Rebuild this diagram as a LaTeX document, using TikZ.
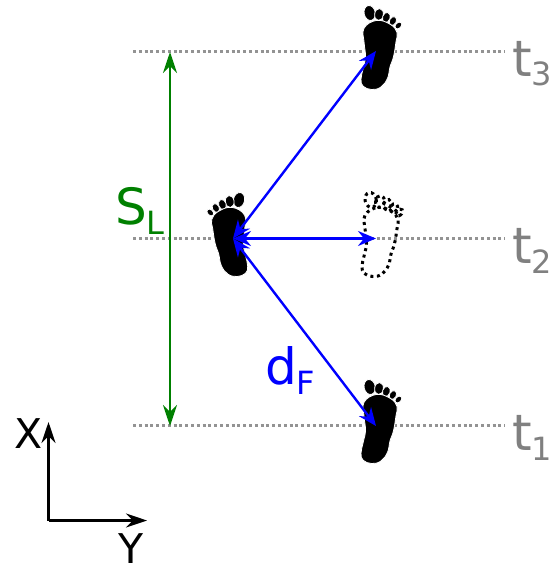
\documentclass[tikz,border=0pt]{standalone}
\usepackage{fontspec}
\setmainfont{DejaVu Sans}
\usetikzlibrary{arrows.meta}
\newcommand{\bigtxt}{\fontsize{50}{50}\selectfont}
\newcommand{\axtxt}{\fontsize{41}{41}\selectfont}
\newcommand{\subtxt}[1]{{\fontsize{32}{32}\selectfont\raisebox{-9.5pt}{#1}}}
\definecolor{midgray}{RGB}{128,128,128}
\definecolor{dgreen}{RGB}{0,128,0}
\tikzset{
  x=1pt,y=-1pt,
  guide/.style={midgray!85,line width=2.4pt,dash pattern=on 3pt off 2.8pt},
  tip/.style={-{Stealth[length=21pt,width=14pt,inset=7pt]}},
  dtip/.style={{Stealth[length=21pt,width=14pt,inset=7pt]}-{Stealth[length=21pt,width=14pt,inset=7pt]}},
  btip/.style={{Stealth[length=18pt,width=15pt,inset=6pt]}-{Stealth[length=18pt,width=15pt,inset=6pt]}},
  span/.style={dtip,dgreen,line width=2.4pt},
  reach/.style={btip,blue,line width=2.4pt},
  axis/.style={tip,black,line width=2.4pt},
  lab/.style={inner sep=0pt,anchor=base west,font=\bigtxt},
  axlab/.style={inner sep=0pt,anchor=base west,font=\axtxt},
  solid foot/.style={fill=black,draw=white,line width=0.8pt},
  dotted foot/.style={draw=black,fill=none,line width=3pt,dash pattern=on 3pt off 3.6pt},
  pics/foot/.style={code={
    \path[#1,shift={(-10.3,-37)},rotate=12] (0,0) ellipse[x radius=5.6,y radius=7.6];
    \path[#1,shift={(-1,-35.5)},rotate=-8] (0,0) ellipse[x radius=4.4,y radius=6];
    \path[#1,shift={(6.3,-32.5)},rotate=-18] (0,0) ellipse[x radius=3.8,y radius=5.2];
    \path[#1,shift={(12.9,-29)},rotate=-28] (0,0) ellipse[x radius=3.4,y radius=4.6];
    \path[#1,shift={(18.4,-24.5)},rotate=-45] (0,0) ellipse[x radius=2.8,y radius=3.9];
    \path[#1] plot[smooth cycle,tension=0.7] coordinates {(-16,-21.7) (-3.3,-29.6) (10.5,-25.5) (17,-17.5) (16,-8.3) (13.5,6.7) (10,17) (7.5,28.3) (1,37) (-8.3,39.5) (-16.8,36.3) (-19,29.3) (-16.8,18.3) (-14.5,6.7) (-15.8,-6.7)};
  }}
}
\begin{document}
\begin{tikzpicture}
\useasboundingbox (0,0) rectangle (556,567);
% guide lines
\coordinate (g3a) at (133,51.5); \coordinate (g3b) at (505,51.5);
\coordinate (g2a) at (133,238.5); \coordinate (g2b) at (505,238.5);
\coordinate (g1a) at (133,425.5); \coordinate (g1b) at (505,425.5);
\draw[guide] (g3a) -- (g3b);
\draw[guide] (g2a) -- (g2b);
\draw[guide] (g1a) -- (g1b);
% feet
\pic at (380,50) {foot={solid foot}};
\pic at (380,424) {foot={solid foot}};
\pic[xscale=-1] at (228.7,237) {foot={solid foot}};
\pic at (381,237) {foot={dotted foot}};
% arrows
\coordinate (sTop) at (170,52); \coordinate (sBot) at (170,426);
\coordinate (stance) at (233,238.5);
\coordinate (f3) at (376,51); \coordinate (f2) at (376,238.5); \coordinate (f1) at (376,426);
\draw[span] (sTop) -- (sBot);
\draw[reach] (stance) -- (f3);
\draw[reach] (stance) -- (f2);
\draw[reach] (stance) -- (f1);
% axes
\coordinate (o) at (48.5,520.5); \coordinate (ax) at (48.5,422); \coordinate (ay) at (147,520.5);
\draw[axis] (o) -- (ax);
\draw[axis] (o) -- (ay);
% labels
\node[lab,text=midgray] (t3) at (512,76.5) {t\subtxt{3}};
\node[lab,text=midgray] (t2) at (512,263.5) {t\subtxt{2}};
\node[lab,text=midgray] (t1) at (512,450.5) {t\subtxt{1}};
\node[lab,text=dgreen] (sl) at (115,224.5) {S\subtxt{L}};
\node[lab,text=blue] (df) at (265,384.5) {d\subtxt{F}};
\node[axlab] (xl) at (14,448) {X};
\node[axlab] (yl) at (118,563) {Y};
\end{tikzpicture}
\end{document}
